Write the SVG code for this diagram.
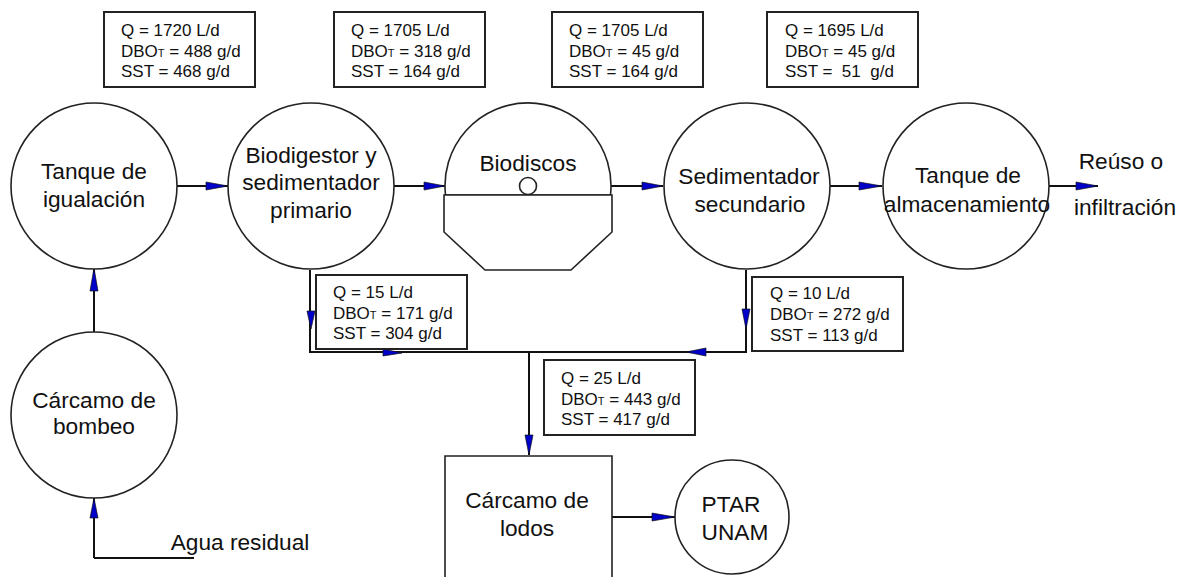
<svg xmlns="http://www.w3.org/2000/svg" width="1178" height="577" viewBox="0 0 1178 577">
<style>
text{font-family:"Liberation Sans",Arial,sans-serif;fill:#111}
.n text{font-size:22.7px;text-anchor:middle}
.b text{font-size:17px}
.b tspan.s{font-size:11px}
.s1{fill:#fff;stroke:#222;stroke-width:1.6}
.box{fill:#fff;stroke:#222;stroke-width:2}
.c path{fill:none;stroke:#111;stroke-width:2}
.c polygon{fill:#0000c8;stroke:#111;stroke-width:.7}
</style>
<rect width="1178" height="577" fill="#fff"/>
<g id="connectors" class="c">
<path d="M94 332V268"/><polygon points="94,268 90,291 98,291"/>
<path d="M94 558V498"/><polygon points="94,498 90,518 98,518"/>
<path d="M94 558H194"/>
<path d="M176 186H228"/><polygon points="228,186 206,182 206,190"/>
<path d="M394 186H445"/><polygon points="445,186 424,182 424,190"/>
<path d="M611 186H663"/><polygon points="663,186 642,182 642,190"/>
<path d="M830 186H882"/><polygon points="882,186 859,182 859,190"/>
<path d="M1049 186H1098"/><polygon points="1098,186 1076,182 1076,190"/>
<path d="M310 270V352H746V270"/>
<polygon points="311,329 307,311 315,311"/>
<polygon points="402,353 383,349 383,356"/>
<polygon points="746,329 742,309 750,309"/>
<polygon points="686,352 706,348 706,356"/>
<path d="M529 352V455"/><polygon points="529,455 525,435 533,435"/>
<path d="M612 517H675"/><polygon points="675,517 652,513 652,521"/>
</g>
<g id="tanque-igualacion" class="n"><circle class="s1" cx="94" cy="186" r="83"/><text x="94" y="179">Tanque de</text><text x="94" y="207">igualación</text></g>
<g id="carcamo-bombeo" class="n"><circle class="s1" cx="94" cy="415" r="83"/><text x="94" y="408">Cárcamo de</text><text x="94" y="434">bombeo</text></g>
<g id="biodigestor" class="n"><circle class="s1" cx="311" cy="186" r="83"/><text x="311" y="163">Biodigestor y</text><text x="311" y="190">sedimentador</text><text x="311" y="218">primario</text></g>
<g id="biodiscos" class="n"><path class="s1" d="M445.5 195A83 83 0 1 1 610.5 195Z"/><path class="s1" d="M444 195H612V232L571 270H485L444 232Z"/><circle class="s1" cx="528" cy="186" r="8.5"/><text x="528" y="171">Biodiscos</text></g>
<g id="sedimentador" class="n"><circle class="s1" cx="747" cy="186" r="83"/><text x="749" y="184">Sedimentador</text><text x="750" y="212">secundario</text></g>
<g id="tanque-almacenamiento" class="n"><circle class="s1" cx="966" cy="186" r="83"/><text x="968" y="183">Tanque de</text><text x="967" y="212">almacenamiento</text></g>
<g id="reuso" class="n"><text x="1121" y="169">Reúso o</text><text x="1125" y="215">infiltración</text></g>
<g id="agua-residual" class="n"><text x="240" y="550">Agua residual</text></g>
<g id="carcamo-lodos" class="n"><path class="s1" d="M445 577V456H612V577"/><text x="527" y="508">Cárcamo de</text><text x="527" y="536">lodos</text></g>
<g id="ptar" class="n"><circle class="s1" cx="732" cy="517" r="57"/><text x="731" y="512">PTAR</text><text x="735" y="540">UNAM</text></g>
<g id="data1" class="b"><rect class="box" x="104" y="12" width="151" height="75"/><text x="121" y="36">Q = 1720 L/d</text><text x="121" y="57">DBO<tspan class="s">T</tspan> = 488 g/d</text><text x="121" y="77">SST = 468 g/d</text></g>
<g id="data2" class="b"><rect class="box" x="334" y="12" width="151" height="75"/><text x="351" y="36">Q = 1705 L/d</text><text x="351" y="57">DBO<tspan class="s">T</tspan> = 318 g/d</text><text x="351" y="77">SST = 164 g/d</text></g>
<g id="data3" class="b"><rect class="box" x="552" y="12" width="151" height="75"/><text x="569" y="36">Q = 1705 L/d</text><text x="569" y="57">DBO<tspan class="s">T</tspan> = 45 g/d</text><text x="569" y="77">SST = 164 g/d</text></g>
<g id="data4" class="b"><rect class="box" x="767" y="12" width="151" height="75"/><text x="785" y="36">Q = 1695 L/d</text><text x="785" y="57">DBO<tspan class="s">T</tspan> = 45 g/d</text><text x="785" y="77" xml:space="preserve">SST =  51  g/d</text></g>
<g id="data5" class="b"><rect class="box" x="316" y="275" width="151" height="74"/><text x="333" y="298">Q = 15 L/d</text><text x="333" y="319">DBO<tspan class="s">T</tspan> = 171 g/d</text><text x="333" y="339">SST = 304 g/d</text></g>
<g id="data6" class="b"><rect class="box" x="752" y="277" width="151" height="74"/><text x="770" y="299">Q = 10 L/d</text><text x="770" y="320">DBO<tspan class="s">T</tspan> = 272 g/d</text><text x="770" y="341">SST = 113 g/d</text></g>
<g id="data7" class="b"><rect class="box" x="544" y="360" width="151" height="75"/><text x="561" y="384">Q = 25 L/d</text><text x="561" y="405">DBO<tspan class="s">T</tspan> = 443 g/d</text><text x="561" y="425">SST = 417 g/d</text></g>
</svg>
